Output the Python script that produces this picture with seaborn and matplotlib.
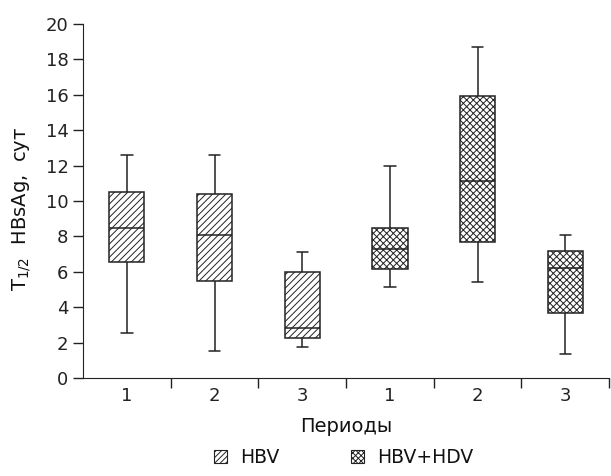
import numpy as np
import pandas as pd
import matplotlib
matplotlib.use("Agg")
import matplotlib.pyplot as plt
from matplotlib.patches import Patch
import seaborn as sns

# five-number summaries (whisker low, Q1, median, Q3, whisker high)
groups = ["HBV", "HBV", "HBV", "HBV+HDV", "HBV+HDV", "HBV+HDV"]
periods = ["1", "2", "3", "1", "2", "3"]
lows = [2.55, 1.55, 1.75, 5.15, 5.4, 1.35]
q1s = [6.55, 5.5, 2.28, 6.15, 7.7, 3.65]
medians = [8.5, 8.1, 2.8, 7.3, 11.1, 6.2]
q3s = [10.5, 10.4, 6.0, 8.5, 15.95, 7.2]
highs = [12.6, 12.6, 7.1, 12.0, 18.7, 8.05]

hatch_for = {"HBV": "/////", "HBV+HDV": "xxxxx"}

sns.set_style("ticks")
plt.rcParams["font.family"] = ["DejaVu Sans"]
plt.rcParams["mathtext.default"] = "regular"
plt.rcParams["axes.edgecolor"] = "#222222"
plt.rcParams["text.color"] = "#111111"
plt.rcParams["xtick.color"] = "#222222"
plt.rcParams["ytick.color"] = "#222222"
plt.rcParams["axes.labelcolor"] = "#111111"
plt.rcParams["hatch.linewidth"] = 0.7

rows = []
keys = []
for i in range(len(groups)):
    key = groups[i] + " " + periods[i]
    keys.append(key)
    for v in [lows[i], q1s[i], medians[i], q3s[i], highs[i]]:
        rows.append({"key": key, "value": v})
df = pd.DataFrame(rows)

fig, ax = plt.subplots(figsize=(6.11, 4.76), dpi=100)
fig.subplots_adjust(left=0.136, right=0.997, bottom=0.206, top=0.9496)

sns.boxplot(data=df, x="key", y="value", order=keys, width=0.4,
            whis=(0, 100), color="white", linecolor="#222222",
            linewidth=1.1, capwidths=0.13, ax=ax)

for i, patch in enumerate(ax.patches):
    patch.set_hatch(hatch_for[groups[i]])

ax.set_ylim(0, 20)
ax.set_yticks(np.arange(0, 21, 2))
ax.set_xlim(-0.5, 5.5)
ax.set_xticks(np.arange(0.5, 6, 1))
ax.set_xticklabels([])
ax.set_xticks(np.arange(6), minor=True)
ax.set_xticklabels(periods, minor=True)
ax.tick_params(axis="both", which="major", length=7, width=1.0, labelsize=13, pad=3.5)
ax.tick_params(axis="x", which="minor", length=0, labelsize=13, pad=6.5)

ax.set_xlabel("Периоды", fontsize=14, labelpad=9)
ax.set_ylabel("T$_{1/2}$  HBsAg,  сут", fontsize=14)
ax.yaxis.set_label_coords(-0.095, 0.477)
sns.despine(ax=ax)

handles = [Patch(facecolor="white", edgecolor="#222222", hatch="//////", linewidth=0.8),
           Patch(facecolor="white", edgecolor="#222222", hatch="xxxxxx", linewidth=0.8)]
ax.legend(handles, ["HBV", "HBV+HDV"], loc="lower center",
          bbox_to_anchor=(0.495, -0.30), ncol=2, frameon=False, fontsize=13.5,
          handlelength=0.7, handleheight=0.7, handletextpad=0.7,
          columnspacing=3.8)

fig.savefig("out.png", dpi=100)
